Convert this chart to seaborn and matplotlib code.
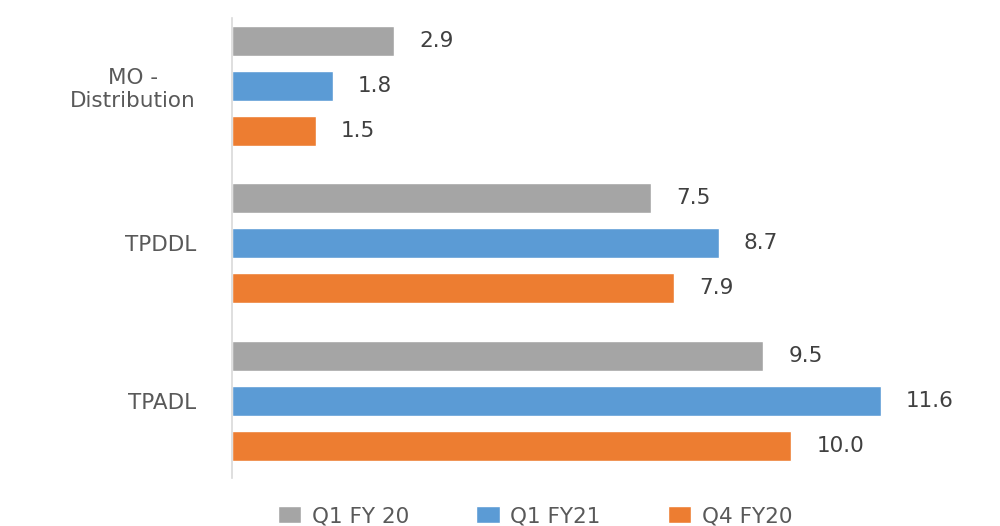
import pandas as pd
import seaborn as sns
import matplotlib.pyplot as plt
from matplotlib.patches import Patch

# Datos
categories = ["MO -\nDistribution", "TPDDL", "TPADL"]
series = ["Q1 FY 20", "Q1 FY21", "Q4 FY20"]
q1_fy20 = [2.9, 7.5, 9.5]
q1_fy21 = [1.8, 8.7, 11.6]
q4_fy20 = [1.5, 7.9, 10.0]
colors = ["#A5A5A5", "#5B9BD5", "#ED7D31"]

df = pd.DataFrame({
    "Company": categories * 3,
    "Period": [s for s in series for _ in categories],
    "Value": q1_fy20 + q1_fy21 + q4_fy20,
})

sns.set_style("white")
plt.rcParams['font.family'] = ['DejaVu Sans']

fig = plt.figure(figsize=(10, 5.26), dpi=100)
ax = fig.add_axes([0.232, 0.0913, 0.727, 0.8745])

sns.barplot(data=df, y="Company", x="Value", hue="Period", order=categories,
            hue_order=series, palette=colors, orient="h", width=0.857, gap=0.33,
            saturation=1, ax=ax, legend=False, errorbar=None)

for c in ax.containers:
    ax.bar_label(c, fmt="%.1f", padding=18, fontsize=15.5, color="#404040")

ax.set_xlim(0, 13)
ax.set_ylim(2.49, -0.43)
ax.set_xlabel("")
ax.set_ylabel("")
ax.set_xticks([])
ax.tick_params(axis="y", length=0, pad=26, labelsize=15.5, labelcolor="#595959")
for lbl in ax.get_yticklabels():
    lbl.set_multialignment("center")
for s in ["top", "right", "bottom"]:
    ax.spines[s].set_visible(False)
ax.spines["left"].set_color("#D9D9D9")
ax.spines["left"].set_linewidth(1.2)

handles = [Patch(facecolor=col, label=s) for col, s in zip(colors, series)]
fig.legend(handles=handles, loc="lower center", bbox_to_anchor=(0.535, -0.037),
           ncol=3, frameon=False, fontsize=15.5, handlelength=1.1, handleheight=0.8,
           columnspacing=3.1, handletextpad=0.5, labelcolor="#595959")

fig.savefig("out.png", dpi=100)
